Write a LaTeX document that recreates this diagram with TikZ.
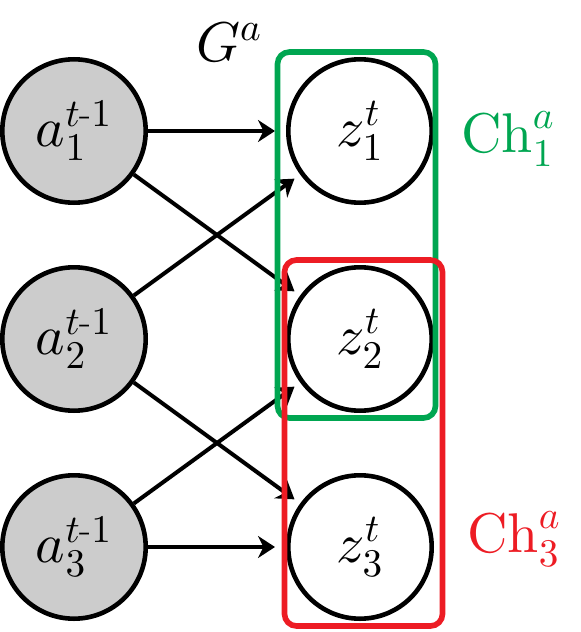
\RequirePackage{fix-cm}
\documentclass[tikz,border=0pt]{standalone}
\usepackage{amsmath}
\usepackage{xcolor}
\usepackage{tikz}
\usetikzlibrary{arrows.meta,positioning,fit}
\definecolor{verdech}{RGB}{0,166,81}
\definecolor{rojoch}{RGB}{237,28,36}
% cm at design size 10, scaled up
\DeclareFontShape{OML}{cmm}{m}{it}{<->cmmi10}{\skewchar\font'177}
\DeclareFontShape{OT1}{cmr}{m}{n}{<->cmr10}{}

\begin{document}
\begin{tikzpicture}[
  node distance=104pt and 143pt, on grid,
  var/.style={circle,draw,line width=2.3pt,minimum size=71.7pt,inner sep=0pt,
              font=\fontsize{28}{33}\selectfont},
  prev/.style={var,fill=black!20},
  grupo/.style={draw,rounded corners=6pt,line width=2.8pt,inner sep=2.5pt},
  fl/.style={-{Stealth[length=8.5pt,width=11pt]},line width=2pt,shorten >=3.5pt},
  et/.style={font=\fontsize{28}{33}\selectfont}]

  \useasboundingbox (-37pt,65.5pt) rectangle (253.5pt,-250.5pt);

  \node[prev] (a1) {$a_1^{t\text{-}1}$};
  \node[prev,below=of a1] (a2) {$a_2^{t\text{-}1}$};
  \node[prev,below=of a2] (a3) {$a_3^{t\text{-}1}$};
  \node[var,right=of a1] (z1) {$z_1^t$};
  \node[var,right=of a2] (z2) {$z_2^t$};
  \node[var,right=of a3] (z3) {$z_3^t$};

  \draw[fl,shorten >=5.5pt] (a1)--(z1); \draw[fl] (a1)--(z2);
  \draw[fl] (a2)--(z1); \draw[fl] (a2)--(z3);
  \draw[fl] (a3)--(z2); \draw[fl,shorten >=5.5pt] (a3)--(z3);

  \node[grupo,draw=verdech,fit=(z1)(z2),xshift=-1.75pt] (gch1) {};
  \node[grupo,draw=rojoch,fit=(z2)(z3),xshift=1.75pt] (gch3) {};

  \node[et,above left=44.5pt and 65.5pt of z1] (ga) {$G^a$};
  \node[et,text=verdech,right=74pt of z1,yshift=-4pt] (ch1) {$\mathrm{Ch}_1^a$};
  \node[et,text=rojoch,right=77pt of z3,yshift=4pt] (ch3) {$\mathrm{Ch}_3^a$};
\end{tikzpicture}
\end{document}
